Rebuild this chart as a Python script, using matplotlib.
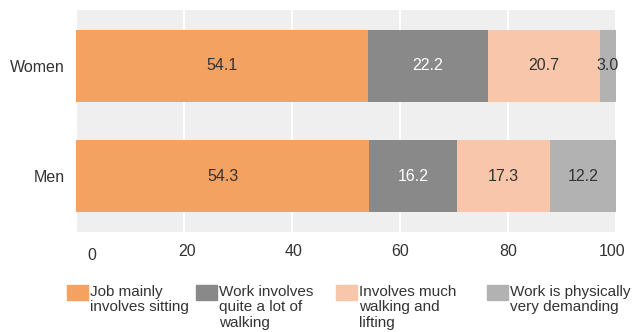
import numpy as np
import matplotlib.pyplot as plt
from matplotlib.patches import Rectangle
from matplotlib.transforms import ScaledTranslation

plt.rcParams['font.family'] = ['Liberation Sans', 'DejaVu Sans']

groups = ['Men', 'Women']
sitting = [54.3, 54.1]
walking = [16.2, 22.2]
lifting = [17.3, 20.7]
demanding = [12.2, 3.0]
series = [sitting, walking, lifting, demanding]
legend_labels = ['Job mainly\ninvolves sitting', 'Work involves\nquite a lot of\nwalking',
                 'Involves much\nwalking and\nlifting', 'Work is physically\nvery demanding']
colors = ['#f4a262', '#898989', '#f7c6ab', '#b2b2b2']
text_colors = ['#333333', 'white', '#333333', '#333333']

fig = plt.figure(figsize=(6.36, 3.32), dpi=100)
ax = fig.add_axes([76/636, 1-232/332, 540/636, 222/332])
ax.set_facecolor('#efefef')

y = np.arange(len(groups))
left = np.zeros(len(groups))
for vals, c, tc in zip(series, colors, text_colors):
    vals = np.array(vals)
    ax.barh(y, vals, left=left, height=0.655, color=c, zorder=2)
    for yi, l, v in zip(y, left, vals):
        ax.text(l + v/2, yi, f'{v:.1f}', ha='center', va='center',
                color=tc, fontsize=11.5, zorder=3)
    left += vals

ax.set_xlim(0, 100)
ax.set_ylim(-0.509, 1.509)
ax.set_xticks([0, 20, 40, 60, 80, 100])
ax.set_yticks(y)
ax.set_yticklabels(groups)
ax.grid(axis='x', color='white', linewidth=1.5, zorder=1)
ax.tick_params(length=0, labelsize=11.5, colors='#333333')
ax.tick_params(axis='x', pad=9)
ax.tick_params(axis='y', pad=8)
for s in ax.spines.values():
    s.set_visible(False)

# quirky tick label offsets
shifts = [(16, -4), (3, 0), (2, 0), (0, 0), (0, 0), (-4, 0)]
for lab, (dx, dy) in zip(ax.get_xticklabels(), shifts):
    lab.set_transform(lab.get_transform() + ScaledTranslation(dx/100, dy/100, fig.dpi_scale_trans))

# legend drawn by hand
leg_x = [67, 196, 336, 487]
for lx, c, lab in zip(leg_x, colors, legend_labels):
    fig.patches.append(Rectangle((lx/636, 1-300/332), 21/636, 15/332,
                                 transform=fig.transFigure, color=c))
    fig.text((lx+23)/636, 1-285/332, lab, ha='left', va='top', fontsize=11,
             color='#333333', linespacing=1.12)

fig.savefig('out.png', dpi=100)
